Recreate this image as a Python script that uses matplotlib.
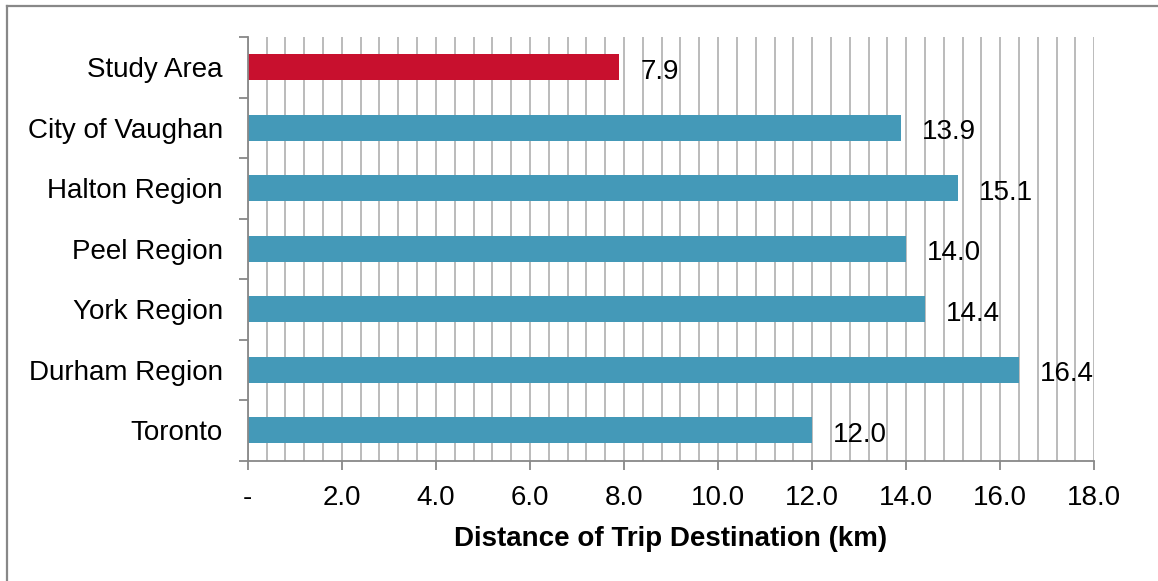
import matplotlib
matplotlib.use('Agg')
from matplotlib import pyplot as plt
from matplotlib.lines import Line2D
from matplotlib.ticker import MultipleLocator, FixedLocator
import numpy as np

regioes = ['Study Area', 'City of Vaughan', 'Halton Region', 'Peel Region',
           'York Region', 'Durham Region', 'Toronto']
distancias = [7.9, 13.9, 15.1, 14.0, 14.4, 16.4, 12.0]
cores = ['#C8102E', '#4499B8', '#4499B8', '#4499B8', '#4499B8', '#4499B8', '#4499B8']
rotulos_x = ['-', '2.0', '4.0', '6.0', '8.0', '10.0', '12.0', '14.0', '16.0', '18.0']
titulo_x = 'Distance of Trip Destination (km)'

plt.rcParams['font.family'] = ['Liberation Sans', 'DejaVu Sans']

fig = plt.figure(figsize=(11.58, 5.81), dpi=100)
ax = fig.add_axes([0.214, 0.207, 0.731, 0.729])

pos = np.arange(len(regioes))
ax.barh(pos, distancias, height=0.43, color=cores, zorder=2)

for i, v in enumerate(distancias):
  ax.annotate(f'{v:.1f}', (v, pos[i]), xytext=(15, -3), textcoords='offset points',
              va='center', ha='left', fontsize=20, zorder=3)

ax.set_xlim(0, 18)
ax.set_ylim(len(regioes) - 0.5, -0.5)

ax.set_xticks(np.arange(0, 18.01, 2))
ax.set_xticklabels(rotulos_x, fontsize=20)
ax.xaxis.set_minor_locator(MultipleLocator(0.4))
ax.grid(True, which='both', axis='x', color='#BBBBBB', linewidth=1.4, zorder=0)
ax.tick_params(axis='x', which='minor', length=0)
ax.tick_params(axis='x', which='major', direction='out', length=6.5, width=1.3,
               color='#888888', pad=11)

ax.set_yticks(pos)
ax.set_yticklabels(regioes, fontsize=20)
ax.yaxis.set_minor_locator(FixedLocator(np.arange(-0.5, len(regioes), 1)))
ax.tick_params(axis='y', which='major', length=0, pad=18)
ax.tick_params(axis='y', which='minor', direction='out', length=6.5, width=1.3,
               color='#888888')

for lado in ['top', 'right']:
  ax.spines[lado].set_visible(False)
for lado in ['left', 'bottom']:
  ax.spines[lado].set_color('#888888')
  ax.spines[lado].set_linewidth(1.3)

ax.set_xlabel(titulo_x, fontsize=20, fontweight='bold', labelpad=11)

# moldura cortada (so topo e esquerda)
fig.add_artist(Line2D([0.006, 1.0], [0.99, 0.99], color='#888888', linewidth=1.6))
fig.add_artist(Line2D([0.006, 0.006], [0.0, 0.99], color='#888888', linewidth=1.6))

plt.savefig('out.png', dpi=100)
